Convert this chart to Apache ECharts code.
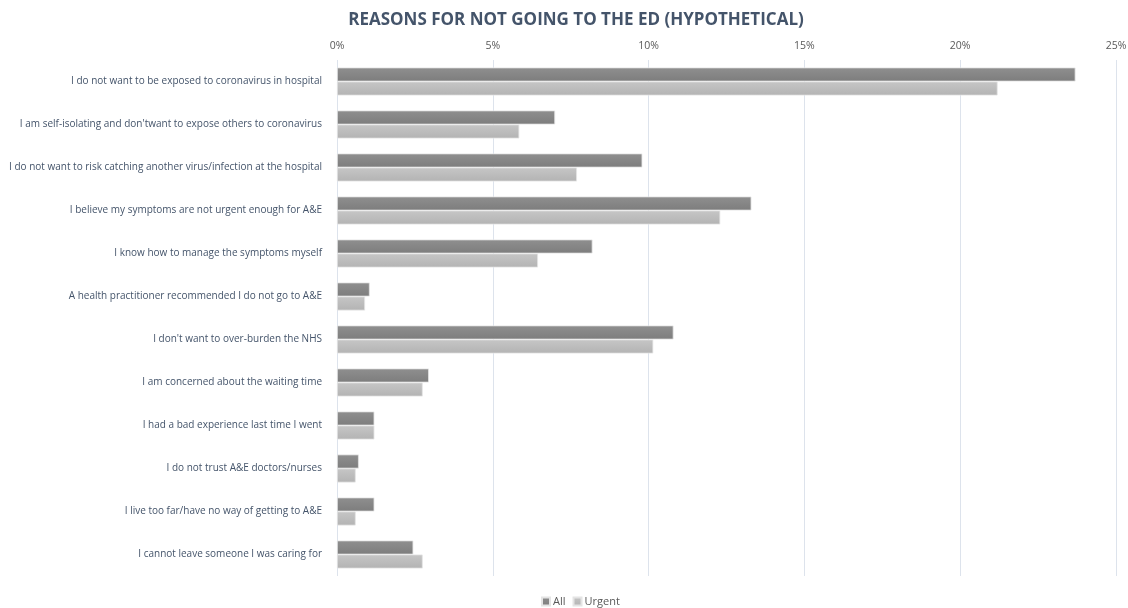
<!DOCTYPE html>
<html><head><meta charset="utf-8">
<script src="https://cdn.jsdelivr.net/npm/echarts@6/dist/echarts.min.js"></script>
<style>html,body{margin:0;padding:0;background:#fff}#c{width:1128px;height:608px}</style>
</head><body><div id="c"></div>
<script>
const categories = [
  "I do not want to be exposed to coronavirus in hospital",
  "I am self-isolating and don'twant to expose others to coronavirus",
  "I do not want to risk catching another virus/infection at the hospital",
  "I believe my symptoms are not urgent enough for A&E",
  "I know how to manage the symptoms myself",
  "A health practitioner recommended I do not go to A&E",
  "I don't want to over-burden the NHS",
  "I am concerned about the waiting time",
  "I had a bad experience last time I went",
  "I do not trust A&E doctors/nurses",
  "I live too far/have no way of getting to A&E",
  "I cannot leave someone I was caring for"
];
const allValues = [23.7, 7.0, 9.8, 13.3, 8.2, 1.05, 10.8, 2.95, 1.2, 0.7, 1.2, 2.45];
const urgentValues = [21.2, 5.85, 7.7, 12.3, 6.45, 0.9, 10.15, 2.75, 1.2, 0.6, 0.6, 2.75];
const tickLabels = ["0%", "5%", "10%", "15%", "20%", "25%"];

const font = "'Open Sans', 'Liberation Sans', sans-serif";
const chart = echarts.init(document.getElementById('c'), null, {renderer: 'canvas'});
function grad(a, b) {
  return new echarts.graphic.LinearGradient(0, 0, 0, 1, [{offset: 0, color: a}, {offset: 1, color: b}]);
}
chart.setOption({
  animation: false,
  title: {
    text: "REASONS FOR NOT GOING TO THE ED (HYPOTHETICAL)",
    left: 571, textAlign: 'center', top: 7,
    textStyle: {color: '#44546a', fontSize: 17, fontWeight: 'bold', fontFamily: font}
  },
  legend: {
    top: 591, left: 536,
    itemWidth: 8, itemHeight: 8, itemGap: 7,
    textStyle: {color: '#595959', fontSize: 11, fontFamily: font, padding: [0, 0, 0, -2]},
    data: [{name: 'All', icon: 'rect'}, {name: 'Urgent', icon: 'rect'}]
  },
  grid: {left: 337, right: 12, top: 60, height: 516, containLabel: false, outerBoundsMode: 'none'},
  xAxis: {
    type: 'value', position: 'top', min: 0, max: 25, interval: 5,
    axisLine: {show: false}, axisTick: {show: false},
    splitLine: {lineStyle: {color: '#dde3ec', width: 1}},
    axisLabel: {
      color: '#595959', fontSize: 10.5, fontFamily: font, margin: 8,
      formatter: v => tickLabels[Math.round(v / 5)]
    }
  },
  yAxis: {
    type: 'category', inverse: true, data: categories,
    axisLine: {show: false}, axisTick: {show: false},
    axisLabel: {color: '#44546a', fontSize: 10, fontFamily: font, margin: 15}
  },
  series: [
    {
      name: 'All', type: 'bar', data: allValues,
      barWidth: 14, barGap: '0%',
      itemStyle: {color: grad('#8f8f8f', '#7d7d7d'), borderColor: '#e4e4e4', borderWidth: 0.8}
    },
    {
      name: 'Urgent', type: 'bar', data: urgentValues,
      barWidth: 14,
      itemStyle: {color: grad('#c6c6c6', '#b3b3b3'), borderColor: '#e4e4e4', borderWidth: 0.8}
    }
  ]
});
</script></body></html>
